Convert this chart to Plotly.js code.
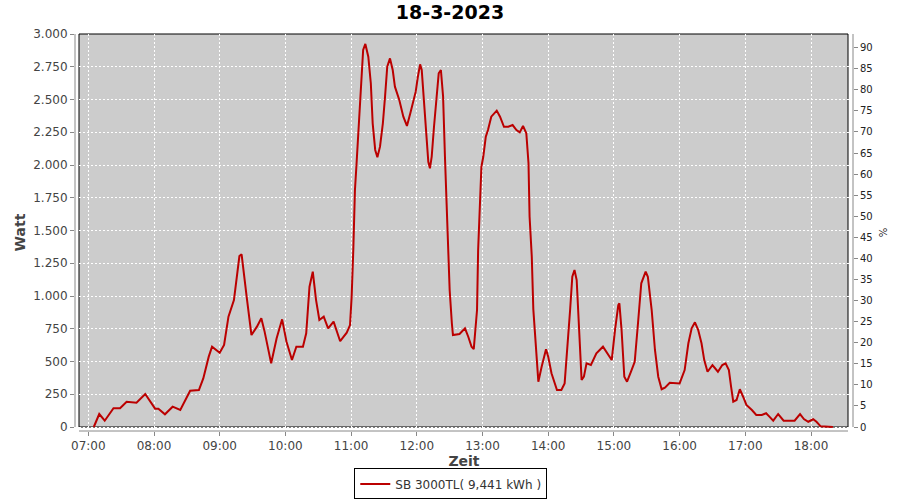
<!DOCTYPE html>
<html>
<head>
<meta charset="utf-8">
<script src="https://cdn.plot.ly/plotly-3.0.1.min.js"></script>
<style>
  html, body { margin: 0; padding: 0; background: #fff; }
  #chart { width: 900px; height: 500px; }
</style>
</head>
<body>
<div id="chart"></div>
<script>
const day = '2023-03-18 ';
const chartTitle = '18-3-2023';
const seriesName = 'SB 3000TL( 9,441 kWh )';

const times = [
  '07:05:00','07:10:00','07:15:00','07:23:00','07:29:00','07:35:00','07:44:00','07:52:00',
  '08:01:00','08:04:00','08:10:00','08:17:00','08:24:00','08:33:00','08:41:00','08:45:00',
  '08:50:00','08:53:00','09:00:00','09:04:00','09:08:00','09:13:00','09:18:00','09:20:00',
  '09:25:00','09:29:00','09:34:00','09:38:00','09:41:00','09:47:00','09:52:00','09:57:00',
  '10:01:00','10:06:00','10:10:00','10:16:00','10:19:00','10:22:00','10:25:00','10:28:00',
  '10:31:00','10:35:00','10:39:00','10:44:00','10:50:00','10:56:00','10:59:00','11:00:30',
  '11:02:00','11:03:30','11:05:00','11:06:36','11:09:00','11:11:00','11:13:00','11:15:42',
  '11:18:00','11:19:42','11:22:00','11:24:00','11:26:24','11:29:00','11:31:00','11:33:00',
  '11:35:30','11:38:00','11:40:00','11:44:00','11:47:42','11:51:00','11:54:00','11:57:00',
  '11:59:00','12:01:00','12:03:00','12:04:30','12:06:00','12:08:24','12:10:30','12:12:00',
  '12:13:36','12:15:42','12:18:00','12:20:00','12:22:00','12:24:00','12:25:42','12:27:00',
  '12:28:48','12:30:00','12:32:00','12:33:00','12:39:00','12:44:00','12:47:00','12:50:00',
  '12:52:00','12:55:00','12:56:00','12:57:42','12:59:00','13:00:42','13:03:00','13:05:00',
  '13:08:00','13:13:00','13:16:00','13:19:36','13:23:30','13:27:30','13:31:00','13:34:00',
  '13:37:00','13:40:00','13:42:00','13:43:00','13:45:00','13:46:24','13:49:00','13:51:00',
  '13:54:00','13:58:00','14:00:00','14:03:00','14:08:00','14:12:00','14:15:00','14:17:30',
  '14:20:00','14:22:00','14:24:00','14:26:00','14:28:00','14:30:30','14:32:36','14:35:00',
  '14:39:00','14:44:00','14:50:00','14:55:00','14:58:00','15:01:00','15:04:00','15:05:00',
  '15:07:00','15:09:30','15:12:00','15:15:36','15:19:00','15:22:00','15:25:00','15:29:00',
  '15:31:00','15:34:30','15:37:30','15:40:30','15:43:36','15:46:36','15:51:00','16:00:00',
  '16:04:36','16:08:00','16:11:00','16:14:00','16:17:00','16:20:00','16:22:30','16:25:30',
  '16:30:00','16:35:00','16:39:00','16:42:00','16:45:00','16:47:00','16:49:00','16:52:00',
  '16:55:00','16:58:00','17:01:00','17:06:00','17:10:00','17:15:00','17:19:00','17:22:00',
  '17:25:30','17:30:00','17:35:00','17:45:00','17:50:00','17:53:30','17:57:30','18:02:00',
  '18:05:00','18:08:48','18:20:00'
];

const watt = [
  0, 99, 48, 143, 143, 193, 186, 252,
  140, 140, 97, 155, 130, 277, 282, 371,
  537, 613, 567, 626, 842, 969, 1305, 1318,
  969, 702, 766, 830, 728, 486, 677, 822,
  651, 511, 613, 613, 715, 1071, 1186, 969,
  817, 842, 753, 804, 655, 720, 778, 995,
  1351, 1809, 2013, 2267, 2573, 2878, 2924, 2827,
  2624, 2318, 2115, 2059, 2140, 2318, 2522, 2750,
  2814, 2725, 2598, 2496, 2369, 2298, 2394, 2509,
  2560, 2674, 2768, 2725, 2547, 2292, 2025, 1975,
  2063, 2292, 2547, 2700, 2725, 2522, 2063, 1758,
  1376, 1046, 792, 702, 710, 753, 689, 613,
  595, 893, 1351, 1758, 1987, 2063, 2216, 2267,
  2369, 2415, 2369, 2292, 2292, 2305, 2267, 2249,
  2298, 2242, 2013, 1605, 1300, 900, 537, 346,
  460, 593, 537, 410, 282, 282, 333, 588,
  893, 1147, 1198, 1122, 792, 359, 384, 486,
  473, 562, 613, 550, 511, 740, 931, 944,
  740, 384, 346, 422, 498, 792, 1097, 1186,
  1147, 893, 588, 384, 288, 300, 338, 333,
  435, 639, 753, 799, 740, 639, 511, 422,
  473, 422, 473, 486, 435, 308, 193, 206,
  288, 231, 168, 130, 92, 92, 105, 79,
  48, 99, 48, 48, 99, 61, 40, 59,
  40, 5, 0
];

const xRange = ['06:47:51', '18:38:21'];
const yRange = [-30.53, 3000];
const y2Range = [-0.949, 93.25];

const font = 'DejaVu Sans, Verdana, sans-serif';
const axisGray = '#888888';
const grid = {showgrid: true, gridcolor: '#ffffff', gridwidth: 1, griddash: '2px,2px'};

// plot-area frame inside the (slightly larger) axis domain: 4px offset for axis lines
const fx0 = 4 / 778, fx1 = 773 / 778, fy0 = 4 / 397;

const traces = [
  {
    x: times.map(t => day + t),
    y: watt,
    type: 'scatter',
    mode: 'lines',
    name: seriesName,
    line: {color: '#bb0000', width: 2},
    hoverinfo: 'x+y'
  },
  {
    x: [], y: [], yaxis: 'y2', type: 'scatter', mode: 'lines',
    showlegend: false, hoverinfo: 'skip'
  }
];

const layout = {
  width: 900, height: 500,
  margin: {l: 75, r: 47, t: 34, b: 69, pad: 0, autoexpand: false},
  paper_bgcolor: '#ffffff',
  plot_bgcolor: 'rgba(0,0,0,0)',
  separators: ',.',
  showlegend: true,
  title: {
    text: chartTitle,
    font: {family: font, size: 19, color: '#000000', weight: 'bold'},
    xref: 'container', x: 0.5, xanchor: 'center',
    yref: 'container', y: 0.975, yanchor: 'middle'
  },
  xaxis: Object.assign({
    type: 'date',
    range: xRange.map(t => day + t),
    tick0: day + '07:00:00',
    dtick: 3600000,
    tickformat: '%H:%M',
    ticks: 'outside', ticklen: 4, tickcolor: axisGray,
    showline: false, zeroline: false,
    tickfont: {family: font, size: 12, color: '#444444'},
    title: {text: 'Zeit', font: {family: font, size: 14, color: '#444444', weight: 'bold'}, standoff: 3},
    automargin: false, fixedrange: true
  }, grid),
  yaxis: Object.assign({
    range: yRange,
    tick0: 0, dtick: 250,
    separatethousands: true,
    ticks: 'outside', ticklen: 4, tickcolor: axisGray,
    showline: false, zeroline: false,
    tickfont: {family: font, size: 12, color: '#444444'},
    title: {text: 'Watt', font: {family: font, size: 14, color: '#444444', weight: 'bold'}, standoff: 4},
    automargin: false, fixedrange: true
  }, grid),
  yaxis2: {
    overlaying: 'y', side: 'right', anchor: 'x',
    range: y2Range,
    tick0: 0, dtick: 5,
    ticks: 'outside', ticklen: 4, tickcolor: axisGray,
    showgrid: false, showline: false, zeroline: false,
    tickfont: {family: font, size: 10, color: '#222222'},
    title: {text: '%', font: {family: font, size: 10, color: '#222222'}, standoff: 8},
    automargin: false, fixedrange: true
  },
  legend: {
    orientation: 'h',
    x: 0.483, xanchor: 'center',
    y: -0.1335, yanchor: 'middle',
    bgcolor: '#ffffff', bordercolor: '#000000', borderwidth: 1,
    font: {family: font, size: 12, color: '#333333'}
  },
  shapes: [
    {type: 'rect', xref: 'paper', yref: 'paper', x0: fx0, x1: fx1, y0: fy0, y1: 1,
     fillcolor: '#cccccc', line: {width: 0}, layer: 'below'},
    {type: 'rect', xref: 'paper', yref: 'paper', x0: fx0, x1: fx1, y0: fy0, y1: 1,
     fillcolor: 'rgba(0,0,0,0)', line: {color: '#000000', width: 1}, layer: 'between'},
    {type: 'line', xref: 'paper', yref: 'paper', x0: 0, x1: 0, y0: fy0, y1: 1,
     line: {color: axisGray, width: 1}, layer: 'above'},
    {type: 'line', xref: 'paper', yref: 'paper', x0: 1, x1: 1, y0: fy0, y1: 1,
     line: {color: axisGray, width: 1}, layer: 'above'},
    {type: 'line', xref: 'paper', yref: 'paper', x0: fx0, x1: fx1, y0: 0, y1: 0,
     line: {color: axisGray, width: 1}, layer: 'above'}
  ]
};

Plotly.newPlot('chart', traces, layout, {displayModeBar: false, staticPlot: true});
</script>
</body>
</html>
